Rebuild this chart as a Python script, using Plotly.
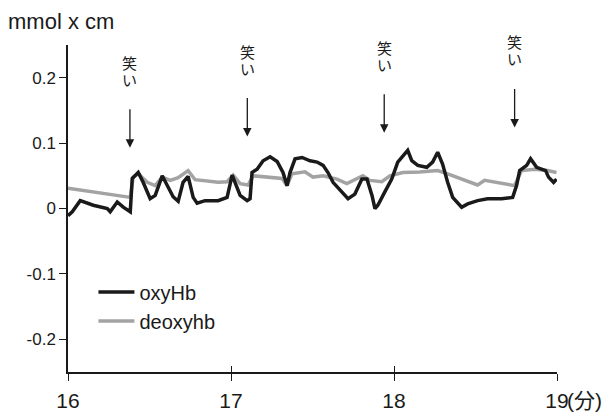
import plotly.graph_objects as go

# ---- data (time in minutes, values in mmol x cm) ----
oxy_t = [16.00, 16.026, 16.075, 16.155, 16.241, 16.259, 16.302, 16.339, 16.382, 16.394,
         16.431, 16.461, 16.504, 16.535, 16.578, 16.608, 16.645, 16.676, 16.706, 16.737,
         16.749, 16.768, 16.792, 16.841, 16.921, 16.976, 17.007, 17.038, 17.056, 17.099,
         17.117, 17.129, 17.160, 17.197, 17.240, 17.283, 17.319, 17.344, 17.362, 17.393,
         17.436, 17.485, 17.528, 17.565, 17.595, 17.626, 17.681, 17.718, 17.760, 17.803,
         17.834, 17.865, 17.883, 17.901, 17.943, 17.986, 18.023, 18.054, 18.084, 18.109,
         18.146, 18.201, 18.237, 18.268, 18.298, 18.329, 18.360, 18.415, 18.452, 18.513,
         18.574, 18.660, 18.728, 18.752, 18.771, 18.814, 18.838, 18.875, 18.930, 18.948,
         18.979, 18.997]
oxy_v = [-0.011, -0.005, 0.012, 0.005, 0.000, -0.005, 0.010, 0.002, -0.005, 0.046,
         0.055, 0.040, 0.015, 0.020, 0.050, 0.035, 0.018, 0.011, 0.040, 0.049,
         0.035, 0.017, 0.008, 0.012, 0.012, 0.017, 0.051, 0.030, 0.020, 0.012,
         0.015, 0.055, 0.060, 0.073, 0.079, 0.072, 0.055, 0.035, 0.055, 0.076,
         0.078, 0.073, 0.071, 0.066, 0.055, 0.040, 0.025, 0.015, 0.022, 0.045,
         0.045, 0.020, 0.000, 0.005, 0.025, 0.045, 0.071, 0.081, 0.089, 0.073,
         0.066, 0.063, 0.071, 0.086, 0.068, 0.040, 0.017, 0.002, 0.007, 0.012,
         0.015, 0.015, 0.017, 0.035, 0.058, 0.066, 0.076, 0.063, 0.058, 0.048,
         0.040, 0.045]

deoxy_t = [16.00, 16.155, 16.259, 16.382, 16.400, 16.431, 16.486, 16.535, 16.578, 16.627,
           16.676, 16.706, 16.737, 16.780, 16.921, 16.976, 17.013, 17.056, 17.105, 17.136,
           17.227, 17.313, 17.344, 17.374, 17.454, 17.503, 17.565, 17.650, 17.711, 17.772,
           17.809, 17.852, 17.925, 17.975, 18.054, 18.158, 18.268, 18.329, 18.415, 18.513,
           18.556, 18.660, 18.740, 18.783, 18.863, 18.942, 18.997]
deoxy_v = [0.031, 0.025, 0.021, 0.017, 0.048, 0.053, 0.040, 0.035, 0.048, 0.043,
           0.047, 0.053, 0.058, 0.044, 0.040, 0.041, 0.051, 0.038, 0.036, 0.050,
           0.048, 0.046, 0.035, 0.053, 0.056, 0.048, 0.050, 0.045, 0.038, 0.045,
           0.050, 0.043, 0.041, 0.050, 0.055, 0.056, 0.058, 0.053, 0.045, 0.036,
           0.043, 0.038, 0.035, 0.058, 0.060, 0.058, 0.055]

laugh_t = [16.38, 17.10, 17.94, 18.74]
laugh_tip = [0.093, 0.110, 0.116, 0.124]
laugh_chars = ["笑", "い"]

x_ticks = [16, 17, 18, 19]
x_ticktext = ["16", "17", "18", "19"]
y_ticks = [0.2, 0.1, 0, -0.1, -0.2]
y_ticktext = ["0.2", "0.1", "0", "-0.1", "-0.2"]

FONT = "Liberation Sans, Arial, Helvetica, Noto Sans CJK JP, sans-serif"
INK = "#1a1a1a"

fig = go.Figure()
fig.add_trace(go.Scatter(x=deoxy_t, y=deoxy_v, mode="lines", name="deoxyhb",
                         line=dict(color="#a3a3a3", width=3.5), legendrank=2,
                         legendgroup="b", xaxis="x"))
fig.add_trace(go.Scatter(x=oxy_t, y=oxy_v, mode="lines", name="oxyHb",
                         line=dict(color=INK, width=3.5), legendrank=1,
                         legendgroup="a", xaxis="x2"))

annotations = []
for t, tip in zip(laugh_t, laugh_tip):
    annotations.append(dict(x=t, y=tip, xref="x", yref="y", text="", showarrow=True,
                            ax=0, ay=-40, arrowhead=2, arrowsize=1.3, arrowwidth=1.3,
                            arrowcolor=INK))
    annotations.append(dict(x=t, y=tip, xref="x", yref="y", text=laugh_chars[1],
                            showarrow=False, yanchor="bottom", yshift=57,
                            font=dict(size=15, color=INK, family=FONT)))
    annotations.append(dict(x=t, y=tip, xref="x", yref="y", text=laugh_chars[0],
                            showarrow=False, yanchor="bottom", yshift=74,
                            font=dict(size=15, color=INK, family=FONT)))
annotations.append(dict(x=0, y=1, xref="paper", yref="paper", text="mmol x cm",
                        showarrow=False, xanchor="left", yanchor="bottom",
                        xshift=-62, yshift=9, font=dict(size=22, color=INK, family=FONT)))
annotations.append(dict(x=x_ticks[-1], y=0, xref="x", yref="paper", text="(分)",
                        showarrow=False, xanchor="left", yanchor="top",
                        xshift=8, yshift=-15, font=dict(size=21, color=INK, family=FONT)))

axis_common = dict(range=[16, 19], showgrid=False, zeroline=False, automargin=False)
fig.update_layout(
    width=609, height=412,
    margin=dict(l=68, r=52, t=45, b=40),
    paper_bgcolor="white", plot_bgcolor="white",
    font=dict(family=FONT, color=INK),
    xaxis=dict(**axis_common, tickvals=x_ticks, ticktext=x_ticktext, ticks="outside",
               ticklen=7, tickwidth=1.3, tickcolor=INK, showline=True, linewidth=1.5,
               linecolor=INK, tickfont=dict(size=21, color=INK), ticklabelstandoff=2),
    xaxis2=dict(**axis_common, overlaying="x", anchor="y", tickvals=x_ticks,
                ticks="inside", ticklen=6, tickwidth=1.3, tickcolor=INK,
                showticklabels=False, showline=False),
    yaxis=dict(range=[-0.25, 0.25], tickvals=y_ticks, ticktext=y_ticktext,
               ticks="outside", ticklen=7, tickwidth=1.3, tickcolor=INK,
               showline=True, linewidth=1.5, linecolor=INK, showgrid=False,
               zeroline=False, automargin=False, tickfont=dict(size=17, color=INK)),
    legend=dict(x=0.052, y=0.304, xanchor="left", yanchor="top", bgcolor="rgba(0,0,0,0)",
                font=dict(size=20, color=INK), tracegroupgap=0, traceorder="normal",
                itemwidth=36),
    annotations=annotations,
    showlegend=True,
)

fig.write_html("out.html", config={"displayModeBar": False},
               post_script="document.body.style.margin='0';document.body.style.padding='0';")
